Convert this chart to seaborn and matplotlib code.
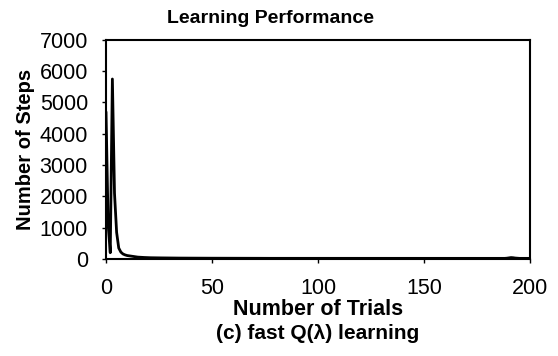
import matplotlib
matplotlib.use('Agg')
import matplotlib.pyplot as plt
import seaborn as sns
import pandas as pd

# Steps per trial (trials 0..200)
early_steps = [4700, 1100, 200, 5750, 2100, 850, 350, 220, 160, 130,
               110, 100, 90, 80, 70, 60]
late_steps = [
    55, 50, 48, 45, 42, 40, 40, 38, 36, 35, 35, 34, 33, 32, 32, 31, 30, 30, 30, 29,
    29, 28, 28, 28, 27, 27, 27, 26, 26, 26, 26, 25, 25, 25, 25, 25, 24, 24, 24, 24,
    24, 24, 23, 23, 23, 23, 23, 23, 23, 22, 22, 22, 22, 22, 22, 22, 22, 22, 21, 21,
    21, 21, 21, 21, 21, 21, 21, 21, 21, 20, 20, 20, 20, 20, 20, 20, 20, 20, 20, 20,
    20, 20, 20, 20, 20, 20, 20, 20, 20, 20, 20, 20, 20, 20, 20, 20, 20, 20, 20, 20,
    20, 20, 20, 20, 20, 20, 20, 20, 20, 20, 20, 20, 20, 20, 20, 20, 20, 20, 20, 20,
    20, 20, 20, 20, 20, 20, 20, 20, 20, 20, 20, 20, 20, 20, 20, 20, 20, 20, 20, 20,
    20, 20, 20, 20, 20, 20, 20, 20, 20, 20, 20, 20, 20, 20, 20, 20, 20, 20, 20, 20,
    20, 20, 20, 20, 20, 20, 20, 20, 20, 20, 20, 20, 20, 25, 35, 45, 40, 30, 25, 20,
    20, 20, 20, 20, 20,
]
steps = early_steps + late_steps
trials = list(range(len(steps)))

df = pd.DataFrame({'trial': trials, 'steps': steps})

sns.set_theme(style='white', rc={'text.color': 'black', 'axes.labelcolor': 'black',
                                 'xtick.color': 'black', 'ytick.color': 'black'})
plt.rcParams['font.family'] = ['Liberation Sans', 'DejaVu Sans']

fig = plt.figure(figsize=(5.58, 3.56), dpi=100)
ax = fig.add_axes([0.19, 0.2725, 0.76, 0.6155])

sns.lineplot(data=df, x='trial', y='steps', color='black', linewidth=2, ax=ax)

ax.set_xlim(0, 200)
ax.set_ylim(0, 7000)
ax.set_xticks([0, 50, 100, 150, 200])
ax.set_yticks(range(0, 7001, 1000))
ax.tick_params(axis='both', labelsize=15.5, length=3, width=1, color='black',
               direction='out', bottom=True, left=True)
ax.tick_params(axis='x', pad=11)
ax.tick_params(axis='y', pad=10)
for s in ax.spines.values():
    s.set_color('black')
    s.set_linewidth(1.5)

ax.set_xlabel('Number of Trials', fontsize=15.5, fontweight='bold', labelpad=0)
ax.set_ylabel('Number of Steps', fontsize=14.5, fontweight='bold', labelpad=3)
ax.set_title('Learning Performance', fontsize=14, fontweight='bold', pad=12, x=0.387)
fig.text(0.57, 0.064, '(c) fast Q(\u03bb) learning', fontsize=15,
         fontweight='bold', ha='center', va='center')

fig.savefig('out.png', dpi=100)
